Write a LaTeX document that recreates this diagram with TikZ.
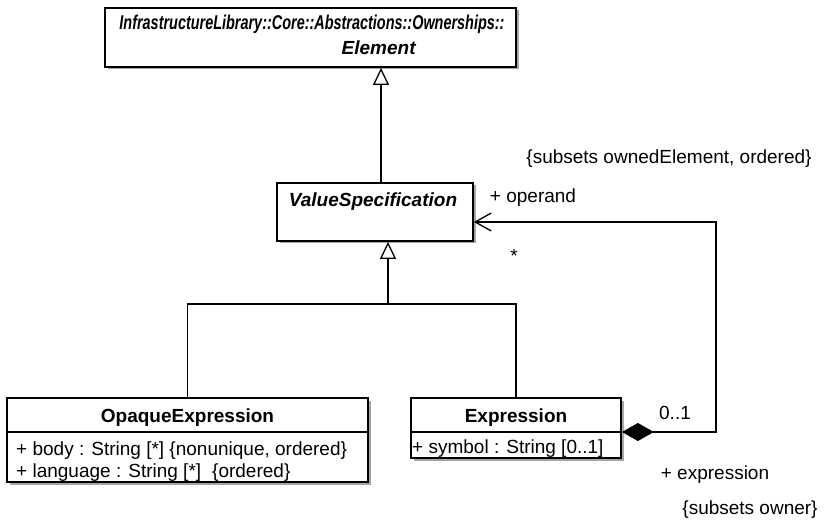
\documentclass[tikz,border=0pt]{standalone}
\usepackage{fontspec}
\setmainfont{Liberation Sans}
\usetikzlibrary{arrows.meta,shadows}

\begin{document}
\begin{tikzpicture}[x=1pt,y=-1pt]
        \tikzstyle{every node} = [font=\fontsize{19}{25}\selectfont, inner sep=0pt]
        \tikzstyle{classbox} = [draw, line width=1.8pt, fill=white,
            drop shadow={shadow xshift=2.5pt, shadow yshift=-2.5pt, fill=black!35, opacity=1}]
        \tikzstyle{txt} = [text height=13.5pt, text depth=3.5pt]
        \tikzstyle{sep} = [line width=1.8pt]
        \tikzstyle{gen} = [line width=1.3pt, -{Triangle[open, length=17pt, width=16pt, line width=1.3pt]}]
        \tikzstyle{comp} = [line width=1.3pt, {Diamond[length=32pt, width=18pt]}-{Straight Barb[length=16pt, width=18pt, line width=1.3pt]}]
        \useasboundingbox (0,0) rectangle (824,521);

            % classes
            \node[classbox, minimum width=411pt, minimum height=59pt] (element) at (310.5,37.5) {};
            \node[txt] (elementpath) at (312,25) {\scalebox{0.76}[1.05]{\textbf{\textit{InfrastructureLibrary::Core::Abstractions::Ownerships::}}}};
            \node[txt] (elementname) at (379,50) {\textbf{\textit{Element}}};

            \node[classbox, minimum width=196pt, minimum height=58pt] (vs) at (375,212) {};
            \node[txt] (vsname) at (373,202) {\textbf{\textit{ValueSpecification}}};

            \node[classbox, minimum width=361pt, minimum height=84pt] (opaque) at (187.5,440) {};
            \draw[sep] (opaque.west |- 0,432) -- (opaque.east |- 0,432);
            \node[txt] (opaquename) at (187.5,417) {\textbf{OpaqueExpression}};
            \node[txt, anchor=west] (body) at (16,450) {+ body : String [*] \{nonunique, ordered\}};
            \node[txt, anchor=west] (language) at (16,472) {+ language : String [*]\hspace{11pt}\{ordered\}};

            \node[classbox, minimum width=210pt, minimum height=60pt] (expr) at (516,428) {};
            \draw[sep] (expr.west |- 0,432) -- (expr.east |- 0,432);
            \node[txt] (exprname) at (516,417) {\textbf{Expression}};
            \node[txt, anchor=west] (symbol) at (412,448) {+ symbol : String [0..1]};

            % generalizations
            \draw[gen] (vs.north -| 381,0) -- (element.south -| 381,0);
            \coordinate (join) at (388,304);
            \draw[gen] (join) -- (vs.south -| join);
            \draw[line width=1.3pt] (opaque.north) |- (join) -| (expr.north);

            % composition
            \draw[comp] ([yshift=-4pt]expr.east) -- ++(94,0) |- ([yshift=-10pt]vs.east);
            \node[txt] (ownedset) at (669,159) {\{subsets ownedElement, ordered\}};
            \node[txt] (operand) at (533,198) {+ operand};
            \node[anchor=base] (many) at (514,262) {*};
            \node[txt] (opt) at (675,414) {0..1};
            \node[txt] (exprrole) at (715,474) {+ expression};
            \node[txt] (ownerset) at (750,509) {\{subsets owner\}};
\end{tikzpicture}
\end{document}
